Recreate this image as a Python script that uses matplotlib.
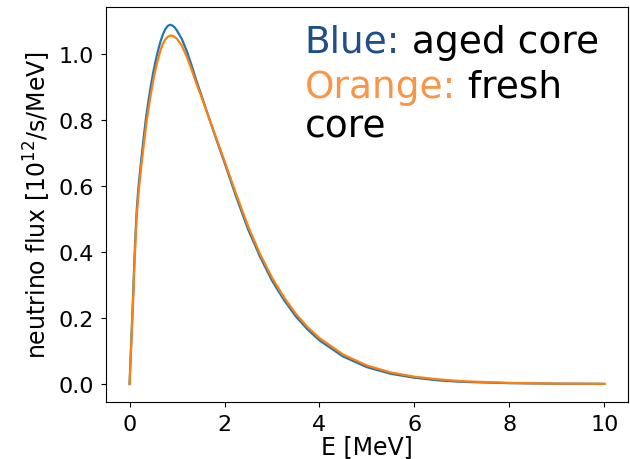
import matplotlib
matplotlib.use("Agg")
import matplotlib.pyplot as plt

# energies [MeV] and fluxes [1e12/s/MeV]
energy = [0.0, 0.025, 0.05, 0.075, 0.1, 0.125, 0.15, 0.175, 0.2, 0.25,
          0.3, 0.35, 0.4, 0.45, 0.5, 0.55, 0.6, 0.65, 0.7, 0.75, 0.8,
          0.85, 0.9, 0.95, 1.0, 1.1, 1.2, 1.3, 1.4, 1.5, 1.6, 1.8, 2.0,
          2.25, 2.5, 2.75, 3.0, 3.25, 3.5, 3.75, 4.0, 4.5, 5.0, 5.5, 6.0,
          6.5, 7.0, 8.0, 9.0, 10.0]
flux_aged = [0.0, 0.09, 0.18, 0.27, 0.37, 0.455, 0.525, 0.575, 0.615,
             0.685, 0.75, 0.81, 0.86, 0.905, 0.945, 0.98, 1.01, 1.037,
             1.058, 1.074, 1.084, 1.088, 1.086, 1.08, 1.07, 1.045, 1.01,
             0.968, 0.922, 0.88, 0.837, 0.752, 0.67, 0.565, 0.467, 0.385,
             0.313, 0.255, 0.205, 0.165, 0.132, 0.083, 0.051, 0.031,
             0.019, 0.011, 0.0065, 0.0025, 0.001, 0.0004]
flux_fresh = [0.0, 0.085, 0.17, 0.255, 0.35, 0.435, 0.505, 0.555, 0.595,
              0.665, 0.725, 0.785, 0.835, 0.88, 0.92, 0.955, 0.985, 1.01,
              1.03, 1.043, 1.051, 1.055, 1.055, 1.051, 1.045, 1.025,
              0.993, 0.955, 0.913, 0.875, 0.835, 0.755, 0.675, 0.573,
              0.476, 0.393, 0.322, 0.263, 0.213, 0.172, 0.139, 0.089,
              0.056, 0.035, 0.022, 0.014, 0.0085, 0.0033, 0.0013, 0.0005]

fig = plt.figure(figsize=(6.3, 4.6), dpi=100)
ax = fig.add_axes([0.168, 0.124, 0.829, 0.859])

ax.plot(energy, flux_aged, color="#1f77b4", lw=1.6)
ax.plot(energy, flux_fresh, color="#ff7f0e", lw=1.6)

ax.set_xlabel("E [MeV]", fontsize=17, labelpad=0)
ax.set_ylabel(r"neutrino flux [$10^{12}$/s/MeV]", fontsize=17, labelpad=4)
ax.tick_params(labelsize=16, pad=5)

# coloured annotation, word by word
fs = 27
t1 = ax.text(0.381, 0.886, "Blue:", color="#1f4e8a", fontsize=fs,
             transform=ax.transAxes, va="baseline")
ax.annotate(" aged core", xy=(1, 0), xycoords=t1, va="bottom",
            fontsize=fs, color="black")
t2 = ax.text(0.381, 0.772, "Orange:", color="#f79646", fontsize=fs,
             transform=ax.transAxes, va="baseline")
ax.annotate(" fresh", xy=(1, 0), xycoords=t2, va="bottom",
            fontsize=fs, color="black")
ax.text(0.381, 0.671, "core", color="black", fontsize=fs,
        transform=ax.transAxes, va="baseline")

fig.savefig("out.png", dpi=100)
